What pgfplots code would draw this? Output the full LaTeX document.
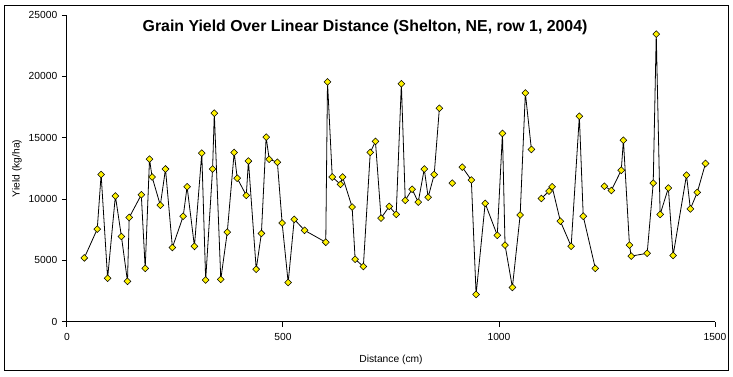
\documentclass[border=0pt]{standalone}
\usepackage{pgfplots}
\pgfplotsset{compat=1.18}
\usepackage{fontspec}
\setmainfont{Liberation Sans}
\begin{document}
\begin{tikzpicture}
\path[use as bounding box] (-50.25pt,-40.7pt) rectangle (499.5pt,241.3pt);
\draw[line width=0.75pt] (-46.5pt,-36.75pt) rectangle (495.75pt,237.5pt);
\begin{axis}[
  at={(0,0)}, anchor=south west,
  scale only axis, width=486pt, height=230pt,
  xmin=0, xmax=1500, ymin=0, ymax=25000,
  axis x line=bottom, axis y line=left,
  axis line style={-, line width=0.75pt},
  tick align=outside, major tick length=3.75pt,
  tick style={black, line width=0.75pt},
  xtick={0,500,1000,1500}, ytick={0,5000,10000,15000,20000,25000},
  minor tick num=0,
  /pgf/number format/assume math mode=true,
  /pgf/number format/1000 sep={},
  scaled ticks=false,
  tick label style={font=\fontsize{7.7}{9}\selectfont},
  xticklabel style={yshift=-1.5pt},
  xlabel={Distance (cm)}, ylabel={Yield (kg/ha)},
  label style={font=\fontsize{7.7}{9}\selectfont},
  xlabel style={at={(axis description cs:0.5,0)}, anchor=center, yshift=-28.5pt},
  ylabel style={at={(axis description cs:0,0.5)}, anchor=center, rotate=0, yshift=37.5pt},
  title={Grain Yield Over Linear Distance (Shelton, NE, row 1, 2004)},
  every axis title shift=0pt,
  title style={at={(axis description cs:0.46,0.961)}, anchor=center, font=\fontsize{11.9}{13}\bfseries},
  unbounded coords=jump,
  clip=false,
]
\addplot[black, line width=0.6pt, mark=square*, mark size=1.8pt,
  mark options={rotate=45, fill=yellow, draw=black, line width=0.4pt}]
coordinates {
(40,5200) (70,7550) (79,12000) (94,3550) (112,10250) (126,6950) (140,3300) (144,8500)
(172,10350) (181,4350) (191,13250) (197,11800) (216,9500) (228,12450) (244,6050) (269,8600)
(278,11000) (295,6150) (312,13750) (321,3400) (337,12450) (341,17000) (356,3450) (371,7300)
(387,13800) (394,11700) (415,10300) (420,13100) (438,4280) (450,7200) (461,15050) (468,13250)
(487,13000) (498,8050) (512,3200) (526,8350) (550,7450) (599,6480) (603,19550) (614,11800)
(633,11200) (638,11800) (660,9350) (667,5100) (686,4500) (702,13800) (714,14700) (727,8450)
(746,9400) (762,8750) (774,19400) (783,9900) (799,10800) (813,9750) (827,12450) (836,10150)
(850,12000) (862,17400) (870,nan)
(892,11300) (900,nan)
(915,12600) (936,11550) (947,2230) (968,9650) (996,7050) (1008,15350) (1014,6250) (1031,2800)
(1049,8700) (1061,18650) (1075,14050) (1085,nan)
(1098,10050) (1116,10650) (1123,11000) (1142,8200) (1167,6150) (1186,16750) (1195,8600) (1223,4350) (1230,nan)
(1244,11050) (1260,10700) (1283,12350) (1288,14800) (1302,6250) (1306,5350) (1343,5580) (1357,11300)
(1364,23450) (1373,8750) (1392,10900) (1403,5400) (1434,11950) (1443,9200) (1459,10550) (1478,12900)
};
\end{axis}
\end{tikzpicture}
\end{document}
